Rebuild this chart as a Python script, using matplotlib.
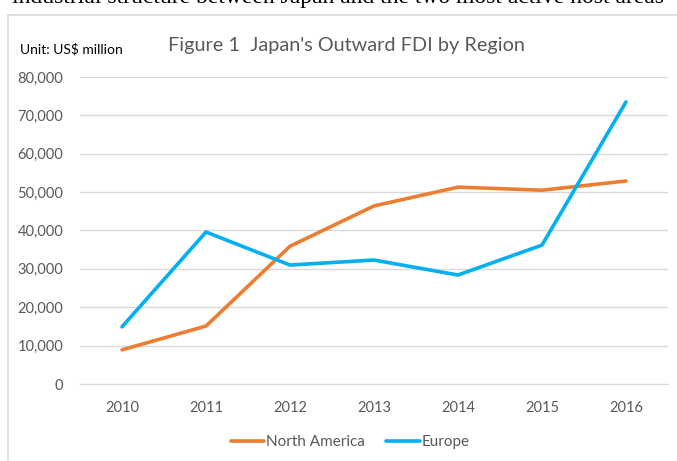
import matplotlib.pyplot as plt
from matplotlib.patches import Rectangle
from matplotlib.ticker import FuncFormatter

years = ["2010", "2011", "2012", "2013", "2014", "2015", "2016"]
north_america = [8900, 15100, 35900, 46400, 51300, 50500, 52900]
europe = [14900, 39600, 31000, 32300, 28400, 36200, 73500]

plt.rcParams['font.family'] = ['Lato', 'DejaVu Sans']

fig = plt.figure(figsize=(6.77, 4.61), dpi=100)
W, H = 677, 461

# chart frame border (light gray), partly off the page
fig.patches.append(Rectangle((8 / W, -0.1), 1.0, (H - 15) / H + 0.1,
                             transform=fig.transFigure, fill=False,
                             edgecolor='#d9d9d9', linewidth=1.2))

# cut-off line of body text above the chart
fig.text(0.5, 1 - 3 / H, "industrial structure between Japan and the two most active host areas",
         family='Liberation Serif', fontsize=17, ha='center', va='baseline', color='black')

ax = fig.add_axes([80 / W, (H - 384) / H, 588 / W, 307 / H])
x = range(len(years))
ax.plot(x, north_america, color='#ED7D31', linewidth=2.6, label='North America',
        solid_capstyle='round')
ax.plot(x, europe, color='#00B0F0', linewidth=2.6, label='Europe',
        solid_capstyle='round')

ax.set_xlim(-0.5, len(years) - 0.5)
ax.set_ylim(0, 80000)
ax.set_yticks(range(0, 80001, 10000))
ax.yaxis.set_major_formatter(FuncFormatter(lambda v, p: f"{int(v):,}"))
ax.set_xticks(list(x))
ax.set_xticklabels(years)
ax.grid(axis='y', color='#d9d9d9', linewidth=1)
ax.set_axisbelow(True)
for s in ['top', 'right', 'left']:
    ax.spines[s].set_visible(False)
ax.spines['bottom'].set_color('#d9d9d9')
ax.tick_params(length=0, labelsize=10.5, colors='#595959')
ax.tick_params(axis='y', pad=12)
ax.tick_params(axis='x', pad=12)

fig.text(20 / W, 1 - 49 / H, "Unit: US$ million", fontsize=10, va='center', color='black')
fig.text(346 / W, 1 - 45 / H, "Figure 1  Japan's Outward FDI by Region", fontsize=14.3,
         ha='center', va='center', color='#595959')

fig.legend(loc='center', bbox_to_anchor=(350 / W, 1 - 442 / H), ncol=2, frameon=False,
           fontsize=11, labelcolor='#595959', handlelength=2.2, handletextpad=0.1,
           columnspacing=1.4)

fig.savefig("out.png", dpi=100)
